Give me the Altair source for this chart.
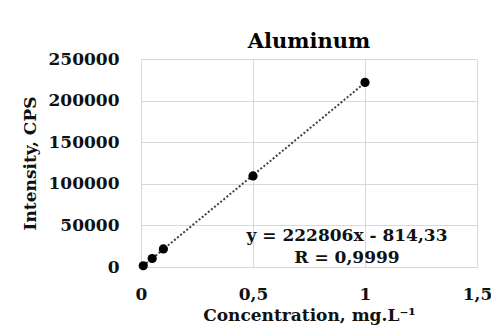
import altair as alt
import pandas as pd

concentration = [0.01, 0.05, 0.1, 0.5, 1.0]
intensity = [1500, 10200, 21700, 109500, 221800]
x_ticks = [0, 0.5, 1, 1.5]
y_ticks = [0, 50000, 100000, 150000, 200000, 250000]
equation_lines = ["y = 222806x - 814,33", "R = 0,9999"]

df = pd.DataFrame({"c": concentration, "i": intensity})

FONT = "DejaVu Serif"

x_enc = alt.X("c:Q", scale=alt.Scale(domain=[0, 1.5], nice=False),
              axis=alt.Axis(values=x_ticks, title="Concentration,  mg.L⁻¹",
                            labelExpr="replace(format(datum.value, ''), '.', ',')",
                            tickSize=0, labelPadding=19, domain=False, labelFlush=False,
                            titlePadding=5, titleFontSize=17))
y_enc = alt.Y("i:Q", scale=alt.Scale(domain=[0, 250000], nice=False),
              axis=alt.Axis(values=y_ticks, title="Intensity, CPS", format="d",
                            tickSize=0, labelPadding=22, domain=False, labelFlush=False,
                            titlePadding=9))

base = alt.Chart(df)

trend = base.transform_regression("c", "i").mark_line(
    color="#404040", strokeDash=[2, 2], strokeWidth=2
).encode(x=x_enc, y=y_enc)

points = base.mark_circle(size=85, color="black", opacity=1).encode(x=x_enc, y=y_enc)

eq_layers = []
for txt, ypix in zip(equation_lines, [177, 199]):
    eq_layers.append(
        alt.Chart(pd.DataFrame({"t": [txt]})).mark_text(
            font=FONT, fontSize=17, fontWeight="bold", color="#111",
            align="center", baseline="middle"
        ).encode(text="t:N", x=alt.value(206), y=alt.value(ypix))
    )

chart = alt.layer(trend, points, *eq_layers).properties(
    width=336, height=208,
    title=alt.TitleParams("Aluminum", font=FONT, fontSize=21, fontWeight="bold",
                          color="black", offset=0, anchor="middle", dy=2),
    autosize=alt.AutoSizeParams(type="none"),
    padding={"left": 133, "top": 51, "right": 14, "bottom": 60},
).configure_axis(
    labelFont=FONT, labelFontSize=17, labelFontWeight="bold", labelColor="#111",
    titleFont=FONT, titleFontSize=17, titleFontWeight="bold", titleColor="#111",
    gridColor="#d9d9d9", gridWidth=1,
).configure_view(stroke=None)

chart.save("out.html", embed_options={"renderer": "svg", "actions": False})
